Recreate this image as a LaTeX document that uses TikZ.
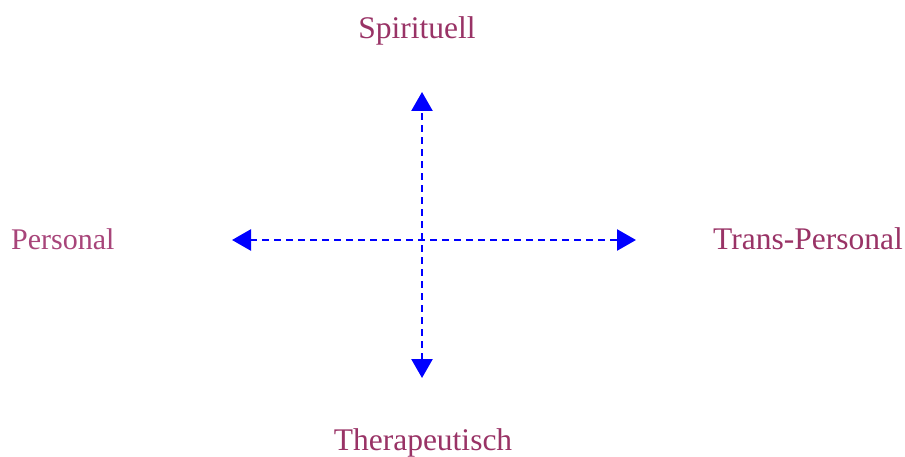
\documentclass[tikz,border=0pt]{standalone}
\usepackage{fontspec}
\setmainfont{Liberation Serif}
\usetikzlibrary{arrows.meta}
\definecolor{labelc}{HTML}{993366}
\definecolor{labelp}{HTML}{A8457A}
\begin{document}
\begin{tikzpicture}[x=1pt,y=1pt,
  lab/.style={text=labelc,font=\fontsize{31.5}{34}\selectfont,inner sep=0pt},
  axis/.style={draw=blue,line width=2.6pt,dash pattern=on 7pt off 5pt,
    {Triangle[length=19pt,width=21pt]}-{Triangle[length=19pt,width=21pt]}}]
\useasboundingbox (0,0) rectangle (905,-457);
\coordinate (top) at (422,-92);
\coordinate (bottom) at (422,-378);
\coordinate (left) at (232,-240);
\coordinate (right) at (636,-240);
\draw[axis] (left) -- (right);
\draw[axis] (bottom) -- (top);
\node[lab] (spir) at (417,-31) {Spirituell};
\node[lab] (ther) at (423,-443) {Therapeutisch};
\node[lab,anchor=east] (trans) at (903,-239) {Trans-Personal};
\node[lab,text=labelp,font=\fontsize{30}{32}\selectfont,anchor=west] (pers) at (11,-239) {Personal};
\end{tikzpicture}
\end{document}
